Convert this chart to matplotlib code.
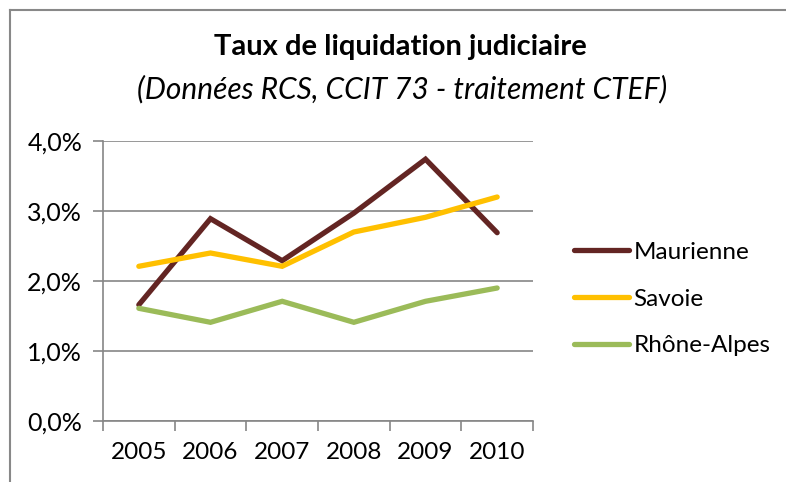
import matplotlib.pyplot as plt
from matplotlib.lines import Line2D
from matplotlib.ticker import FuncFormatter

plt.rcParams['font.family'] = ['Lato', 'DejaVu Sans']

years = ['2005', '2006', '2007', '2008', '2009', '2010']
maurienne = [1.66, 2.89, 2.29, 2.97, 3.74, 2.69]
savoie = [2.21, 2.40, 2.21, 2.70, 2.91, 3.20]
rhone_alpes = [1.61, 1.41, 1.71, 1.41, 1.71, 1.90]

series = [('Maurienne', maurienne, '#632523'),
          ('Savoie', savoie, '#FFC000'),
          ('Rhône-Alpes', rhone_alpes, '#9BBB59')]

fig = plt.figure(figsize=(7.86, 4.82), dpi=100)
W, H = 786, 482

# chart frame (only left and top edges are visible)
fig.add_artist(Line2D([9.5 / W, 9.5 / W], [0, 1 - 9.5 / H], transform=fig.transFigure, color='#888888', lw=1.5))
fig.add_artist(Line2D([9.5 / W, 1], [1 - 9.5 / H, 1 - 9.5 / H], transform=fig.transFigure, color='#888888', lw=1.5))

ax = fig.add_axes([103 / W, 1 - 421 / H, 430 / W, 280 / H])
x = list(range(len(years)))
for name, vals, col in series:
    ax.plot(x, vals, color=col, lw=3.8, solid_capstyle='round', solid_joinstyle='miter', label=name)

ax.set_xlim(-0.5, 5.5)
ax.set_ylim(0, 4)
ax.set_yticks([0, 1, 2, 3, 4])
ax.yaxis.set_major_formatter(FuncFormatter(lambda v, p: f'{v:.1f}%'.replace('.', ',')))
ax.set_xticks(x)
ax.set_xticklabels(years)
ax.set_xticks([i - 0.5 for i in range(len(years) + 1)], minor=True)
ax.tick_params(axis='x', which='major', length=0, pad=15, labelsize=17.5)
ax.tick_params(axis='x', which='minor', length=7, width=1.2, color='#868686', direction='out')
ax.tick_params(axis='y', length=7, width=1.2, color='#868686', pad=8, labelsize=18)
ax.grid(axis='y', color='#868686', lw=1.2)
ax.set_axisbelow(True)
for s in ['top', 'right']:
    ax.spines[s].set_visible(False)
for s in ['left', 'bottom']:
    ax.spines[s].set_color('#868686')
    ax.spines[s].set_linewidth(1.2)

fig.text(400 / W, 1 - 47 / H, 'Taux de liquidation judiciaire', ha='center', va='center',
         fontsize=21, fontweight='bold')
fig.text(402 / W, 1 - 89 / H, '(Données RCS, CCIT 73 - traitement CTEF)', ha='center', va='center',
         fontsize=21.5, style='italic')

leg = ax.legend(loc='center left', bbox_to_anchor=(552 / W, 1 - 299 / H), bbox_transform=fig.transFigure,
                frameon=False, fontsize=17.5, handlelength=2.25, handletextpad=0.2, labelspacing=1.05)

fig.savefig('out.png', dpi=100)
